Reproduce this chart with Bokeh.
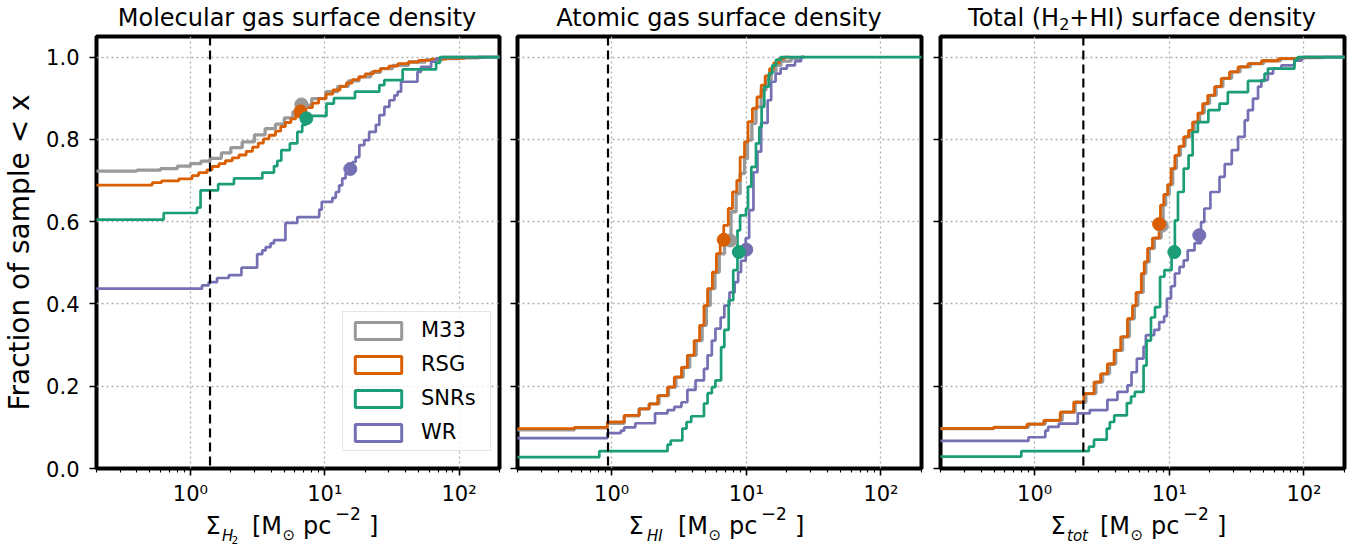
from bokeh.plotting import figure
from bokeh.models import (Range1d, Span, Legend, LegendItem, FixedTicker, Div,
                          PrintfTickFormatter, CustomJSTickFormatter)
from bokeh.layouts import row, column
from bokeh.embed import file_html
from bokeh.resources import INLINE

# ---------------- data ----------------
SERIES = ["M33", "RSG", "SNRs", "WR"]
TITLES = ["Molecular gas surface density", "Atomic gas surface density",
          "Total (H\u2082+HI) surface density"]
Y_LABEL = "Fraction of sample < x"
X_TICKS = [1, 10, 100]
X_TICK_LABELS = ["10\u2070", "10\u00b9", "10\u00b2"]
Y_TICKS = [0.0, 0.2, 0.4, 0.6, 0.8, 1.0]
THRESHOLDS = [1.4, 0.94, 2.3]

# cumulative fractions: (value, fraction of sample below) at each step
H2_M33 = [(0.1, 0.723), (0.4, 0.725), (0.6, 0.729), (0.8, 0.735), (1.0, 0.741), (1.2, 0.747),
          (1.4, 0.754), (1.7, 0.767), (2.0, 0.78), (2.43, 0.794), (3.0, 0.811), (3.6, 0.826),
          (4.3, 0.837), (5.0, 0.852), (5.8, 0.867), (6.7, 0.883), (8.0, 0.899), (10.2, 0.916),
          (12.5, 0.929), (15, 0.942), (18, 0.952), (22, 0.963), (26, 0.972), (32, 0.98),
          (42, 0.988), (56, 0.993), (75, 0.996), (100, 0.998), (140, 1.0), (250, 1.0)]
H2_RSG = [(0.1, 0.689), (0.52, 0.695), (0.61, 0.699), (0.82, 0.704), (1.03, 0.712), (1.15, 0.719),
          (1.33, 0.726), (1.45, 0.734), (1.63, 0.741), (1.82, 0.748), (2.05, 0.755), (2.3, 0.762),
          (2.6, 0.771), (2.9, 0.781), (3.2, 0.791), (3.5, 0.801), (3.85, 0.81), (4.3, 0.82),
          (4.7, 0.831), (5.1, 0.841), (5.6, 0.85), (6.1, 0.859), (6.6, 0.868), (7.2, 0.877),
          (8.1, 0.888), (9.0, 0.899), (10.2, 0.91), (11.5, 0.92), (13, 0.929), (14.5, 0.937),
          (16, 0.945), (18, 0.952), (20, 0.959), (23, 0.966), (26, 0.972), (30, 0.978), (35, 0.984),
          (42, 0.988), (50, 0.992), (62, 0.995), (80, 0.997), (110, 0.999), (150, 1.0)]
H2_SNR = [(0.1, 0.605), (0.633, 0.621), (1.12, 0.634), (1.19, 0.676), (1.61, 0.691), (2.11, 0.705),
          (3.43, 0.719), (4.19, 0.735), (4.44, 0.748), (4.75, 0.774), (5.5, 0.79), (6.25, 0.818),
          (6.8, 0.835), (7.2, 0.857), (10.3, 0.887), (11.7, 0.9), (16.8, 0.916), (25.5, 0.932),
          (27.8, 0.944), (38, 0.97), (67.5, 0.986), (72, 1.0), (250, 1.0)]
H2_WR = [(0.1, 0.437), (1.22, 0.445), (1.37, 0.453), (1.58, 0.463), (1.93, 0.47), (2.4, 0.488),
         (3.14, 0.521), (3.43, 0.53), (3.63, 0.538), (3.95, 0.547), (4.19, 0.555), (5.1, 0.597),
         (6.25, 0.611), (9.1, 0.629), (9.5, 0.648), (11.4, 0.658), (12.1, 0.672), (12.8, 0.688),
         (13.5, 0.705), (14.3, 0.717), (15.5, 0.728), (16.1, 0.745), (17, 0.757), (18.1, 0.786),
         (19.7, 0.798), (21.4, 0.818), (24, 0.835), (25.5, 0.859), (27.8, 0.879), (30.3, 0.895),
         (33, 0.907), (34.9, 0.916), (37, 0.94), (49, 0.964), (52, 0.976), (62, 0.989),
         (67.5, 0.997), (75, 1.0), (250, 1.0)]

HI_M33 = [(0.1, 0.094), (0.53, 0.099), (0.93, 0.11), (1.24, 0.128), (1.6, 0.145), (1.9, 0.157),
          (2.25, 0.177), (2.65, 0.198), (3.0, 0.222), (3.4, 0.246), (3.8, 0.275), (4.25, 0.311),
          (4.7, 0.348), (5.05, 0.396), (5.4, 0.437), (5.85, 0.477), (6.3, 0.522), (6.9, 0.555),
          (7.7, 0.624), (8.4, 0.668), (9.0, 0.717), (9.7, 0.753), (10.2, 0.798), (11.0, 0.839),
          (11.8, 0.879), (12.9, 0.92), (14.0, 0.945), (15.3, 0.965), (16.6, 0.98), (18.1, 0.99),
          (21.5, 0.997), (25.5, 1.0), (27, 1.0)]
HI_RSG = [(0.1, 0.097), (0.53, 0.1), (0.93, 0.113), (1.24, 0.129), (1.6, 0.145), (1.9, 0.157),
          (2.2, 0.177), (2.6, 0.198), (2.92, 0.222), (3.3, 0.246), (3.65, 0.275), (4.1, 0.311),
          (4.5, 0.348), (4.85, 0.396), (5.16, 0.437), (5.6, 0.477), (6.0, 0.522), (6.4, 0.55),
          (6.8, 0.591), (7.35, 0.632), (7.9, 0.672), (8.5, 0.70), (9.0, 0.757), (9.7, 0.794),
          (10.3, 0.843), (11.1, 0.875), (12.0, 0.903), (12.9, 0.932), (13.8, 0.954), (14.9, 0.972),
          (16.0, 0.986), (17.6, 0.996), (19.2, 1.0), (21, 1.0)]
HI_SNR = [(0.1, 0.0275), (0.81, 0.042), (2.6, 0.058), (2.75, 0.068), (3.35, 0.097), (3.6, 0.113),
          (3.9, 0.127), (4.85, 0.158), (5.16, 0.183), (5.55, 0.198), (5.9, 0.214), (6.5, 0.295),
          (6.87, 0.337), (7.4, 0.409), (8.0, 0.482), (8.6, 0.579), (9.0, 0.615), (9.95, 0.632),
          (10.3, 0.685), (10.9, 0.733), (11.8, 0.79), (12.5, 0.83), (13.0, 0.879), (13.6, 0.928),
          (14.7, 0.96), (15.6, 0.98), (16.6, 0.993), (18.0, 1.0), (250, 1.0)]
HI_WR = [(0.1, 0.074), (0.93, 0.086), (1.17, 0.092), (1.24, 0.1), (1.5, 0.11), (2.1, 0.134),
         (2.6, 0.142), (2.92, 0.15), (3.3, 0.161), (3.65, 0.191), (4.2, 0.214), (4.85, 0.242),
         (5.16, 0.275), (5.55, 0.311), (5.9, 0.34), (6.45, 0.367), (6.87, 0.396), (7.5, 0.428),
         (8.2, 0.453), (8.7, 0.477), (9.13, 0.505), (9.9, 0.56), (10.5, 0.628), (11.3, 0.72),
         (12.1, 0.77), (12.9, 0.84), (14.4, 0.895), (15.3, 0.94), (16.5, 0.96), (18, 0.972),
         (20, 0.98), (23, 0.99), (25.5, 1.0), (27, 1.0)]

TOT_M33 = [(0.1, 0.097), (0.5, 0.1), (0.9, 0.108), (1.2, 0.117), (1.6, 0.137), (2.0, 0.161),
           (2.4, 0.182), (2.85, 0.21), (3.2, 0.23), (3.6, 0.254), (4.0, 0.287), (4.5, 0.32),
           (5.05, 0.364), (5.5, 0.396), (5.85, 0.428), (6.4, 0.474), (6.7, 0.502), (7.1, 0.535),
           (7.75, 0.56), (8.7, 0.60), (9.0, 0.64), (9.4, 0.666), (10.0, 0.69), (10.6, 0.729),
           (11.3, 0.761), (12.1, 0.783), (13.1, 0.806), (14.3, 0.822), (15.3, 0.842), (16.8, 0.864),
           (18.2, 0.887), (19.9, 0.907), (22.3, 0.928), (25, 0.948), (29, 0.964), (33.5, 0.976),
           (40, 0.984), (50, 0.991), (67, 0.996), (100, 0.999), (140, 1.0), (250, 1.0)]
TOT_RSG = [(0.1, 0.097), (0.494, 0.1), (0.877, 0.108), (1.17, 0.117), (1.55, 0.137), (1.95, 0.161),
           (2.32, 0.182), (2.76, 0.21), (3.09, 0.23), (3.47, 0.254), (3.89, 0.287), (4.36, 0.32),
           (4.89, 0.364), (5.33, 0.396), (5.66, 0.428), (6.2, 0.474), (6.51, 0.502), (6.9, 0.535),
           (7.5, 0.56), (8.4, 0.60), (8.6, 0.64), (9.1, 0.666), (9.72, 0.69), (10.3, 0.729),
           (11.0, 0.761), (11.8, 0.783), (12.8, 0.806), (13.9, 0.822), (14.9, 0.842), (16.3, 0.864),
           (17.7, 0.887), (19.3, 0.907), (21.7, 0.928), (24.3, 0.948), (28, 0.964), (32.4, 0.976),
           (38.4, 0.984), (48.3, 0.991), (64.4, 0.996), (96, 0.999), (134, 1.0)]
TOT_SNR = [(0.1, 0.029), (0.796, 0.042), (2.53, 0.053), (2.76, 0.07), (3.43, 0.097), (3.62, 0.113),
           (3.9, 0.129), (4.84, 0.159), (5.2, 0.175), (5.55, 0.186), (6.44, 0.25), (6.78, 0.311),
           (7.31, 0.367), (7.83, 0.392), (8.54, 0.466), (9.2, 0.482), (10.4, 0.518), (11.0, 0.603),
           (11.6, 0.672), (12.8, 0.729), (13.9, 0.761), (14.9, 0.818), (16.3, 0.842), (19.5, 0.871),
           (23.6, 0.887), (27.2, 0.915), (38.4, 0.942), (51, 0.96), (54, 0.972), (85, 0.993),
           (90, 1.0), (250, 1.0)]
TOT_WR = [(0.1, 0.067), (0.90, 0.076), (1.2, 0.092), (1.26, 0.101), (1.51, 0.109), (2.09, 0.134),
          (2.57, 0.142), (3.47, 0.167), (4.12, 0.186), (4.89, 0.202), (5.24, 0.234), (5.74, 0.267),
          (6.44, 0.296), (6.7, 0.324), (7.73, 0.337), (8.42, 0.356), (9.16, 0.37), (9.6, 0.413),
          (10.3, 0.443), (11.0, 0.474), (11.9, 0.49), (12.8, 0.506), (13.7, 0.53), (15.4, 0.548),
          (17.2, 0.599), (18.2, 0.632), (20.2, 0.672), (23.6, 0.709), (25.8, 0.74), (29.1, 0.774),
          (32.4, 0.806), (36.3, 0.846), (38.4, 0.871), (41.8, 0.899), (45.6, 0.928), (48.3, 0.944),
          (54, 0.96), (59, 0.972), (68, 0.98), (85, 0.991), (96, 1.0), (250, 1.0)]

# median markers, in SERIES order
MED_H2_X = [6.7, 6.6, 7.3, 15.5]
MED_H2_Y = [0.885, 0.868, 0.851, 0.728]
MED_HI_X = [7.6, 6.8, 8.8, 10.0]
MED_HI_Y = [0.554, 0.556, 0.526, 0.532]
MED_TOT_X = [8.8, 8.4, 10.9, 16.7]
MED_TOT_Y = [0.59, 0.594, 0.526, 0.567]

PANEL_DATA = [
    {"M33": H2_M33, "RSG": H2_RSG, "SNRs": H2_SNR, "WR": H2_WR},
    {"M33": HI_M33, "RSG": HI_RSG, "SNRs": HI_SNR, "WR": HI_WR},
    {"M33": TOT_M33, "RSG": TOT_RSG, "SNRs": TOT_SNR, "WR": TOT_WR},
]
PANEL_MED = [(MED_H2_X, MED_H2_Y), (MED_HI_X, MED_HI_Y), (MED_TOT_X, MED_TOT_Y)]

# ---------------- style / layout ----------------
FONT = "DejaVu Sans"
COLORS = {"M33": "#999999", "RSG": "#d95f02", "SNRs": "#1b9e77", "WR": "#7570b3"}
LWIDTH = {"M33": 3.3, "RSG": 2.8, "SNRs": 2.7, "WR": 2.7}
DRAW_ORDER = ["M33", "RSG", "WR", "SNRs"]
BORDER_L = [95, 9, 10]
BORDER_R = [9, 9, 4]
FRAME_W = [404, 404, 404]
WIDTHS = [BORDER_L[k] + FRAME_W[k] + BORDER_R[k] for k in range(3)]
TITLE_H = 34
BT, FRAME_H, BB = 2, 432, 40
FIG_H = BT + FRAME_H + BB
XLAB_H = 547 - TITLE_H - FIG_H
MINOR = [m * 10.0 ** e for e in (-1, 0, 1, 2) for m in range(2, 10)]

# x-label pieces: (text, x from frame left, font px, vertical shift px, italic)
XLABEL_PIECES = [
    [("\u03a3", 110.5, 24, 0, False), ("H", 127, 15, 7, True), ("2", 136.5, 10.5, 9.5, False),
     ("[M", 157, 24, 0, False), ("\u2299", 187.5, 15, 6, False), ("pc", 208, 24, 0, False),
     ("\u2212", 240, 18, -14, False), ("2", 255, 17, -14, False), ("]", 274, 24, 0, False)],
    [("\u03a3", 111.5, 24, 0, False), ("HI", 130, 15, 7, True),
     ("[M", 161, 24, 0, False), ("\u2299", 191.5, 15, 6, False), ("pc", 212, 24, 0, False),
     ("\u2212", 244, 18, -14, False), ("2", 259, 17, -14, False), ("]", 278, 24, 0, False)],
    [("\u03a3", 110.5, 24, 0, False), ("tot", 127, 15, 7, True),
     ("[M", 160, 24, 0, False), ("\u2299", 190.5, 15, 6, False), ("pc", 211, 24, 0, False),
     ("\u2212", 243, 18, -14, False), ("2", 258, 17, -14, False), ("]", 277, 24, 0, False)],
]


def title_div(k):
    txt = TITLES[k].replace(
        "\u2082", '<span style="font-size:16px;position:relative;top:4px;">2</span>')
    html = (f'<div style="margin-left:{BORDER_L[k]}px;width:{FRAME_W[k]}px;text-align:center;'
            f'font-family:\'{FONT}\';font-size:24px;line-height:20px;padding-top:8px;'
            f'color:black;white-space:nowrap;">{txt}</div>')
    return Div(text=html, width=WIDTHS[k], height=TITLE_H, margin=0)


def xlabel_div(k):
    pieces = XLABEL_PIECES[k]
    spans = []
    for j, (t, x, s, dy, it) in enumerate(pieces):
        w = (pieces[j + 1][1] - x) if j + 1 < len(pieces) else 14
        style = (f"display:inline-block;width:{w}px;font-size:{s}px;position:relative;"
                 f"top:{dy}px;" + ("font-style:italic;" if it else ""))
        spans.append(f'<span style="{style}">{t}</span>')
    html = (f'<div style="padding-left:{BORDER_L[k] + pieces[0][1]}px;padding-top:6px;'
            f'font-family:\'{FONT}\';font-size:24px;line-height:24px;white-space:nowrap;'
            f'color:black;">' + "".join(spans) + "</div>")
    return Div(text=html, width=WIDTHS[k], height=XLAB_H, margin=0)


def build(i):
    p = figure(width=WIDTHS[i], height=FIG_H, x_axis_type="log",
               x_range=Range1d(0.2, 200), y_range=Range1d(0, 1.05),
               output_backend="svg", toolbar_location=None,
               min_border_left=BORDER_L[i], min_border_right=BORDER_R[i],
               min_border_top=BT, min_border_bottom=BB)
    p.background_fill_color = "white"
    p.border_fill_color = "white"
    p.outline_line_color = "black"
    p.outline_line_width = 4
    p.outline_line_alpha = 1.0

    xa, ya = p.xaxis[0], p.yaxis[0]
    xa.ticker = FixedTicker(ticks=X_TICKS, minor_ticks=MINOR)
    xa.major_label_overrides = dict(zip(X_TICKS, X_TICK_LABELS))
    ya.ticker = FixedTicker(ticks=Y_TICKS, minor_ticks=[])
    p.xgrid[0].ticker = xa.ticker
    p.ygrid[0].ticker = ya.ticker
    for ax in (xa, ya):
        ax.axis_line_color = None
        ax.major_tick_line_color = "black"
        ax.major_tick_line_width = 1.6
        ax.major_tick_in = 0
        ax.major_tick_out = 7
        ax.minor_tick_line_color = "black"
        ax.minor_tick_line_width = 1.1
        ax.minor_tick_in = 0
        ax.minor_tick_out = 4
        ax.major_label_text_font = FONT
        ax.major_label_text_font_size = "21px"
        ax.major_label_text_color = "black"
    xa.major_label_standoff = 6
    if i == 0:
        ya.formatter = PrintfTickFormatter(format="%.1f")
        ya.major_label_standoff = 10
        ya.axis_label = Y_LABEL
        ya.axis_label_text_font = FONT
        ya.axis_label_text_font_size = "28px"
        ya.axis_label_text_font_style = "normal"
        ya.axis_label_text_color = "black"
        ya.axis_label_standoff = 7
    else:
        ya.formatter = CustomJSTickFormatter(code="return ''")
        ya.major_label_standoff = 0
    for g in (p.xgrid[0], p.ygrid[0]):
        g.grid_line_color = "#b0b0b0"
        g.grid_line_dash = "2 3"
        g.grid_line_width = 1.3

    data = PANEL_DATA[i]
    for s in DRAW_ORDER:
        pts = data[s]
        p.step([a for a, b in pts], [b for a, b in pts], mode="after",
               line_color=COLORS[s], line_width=LWIDTH[s])

    p.add_layout(Span(location=THRESHOLDS[i], dimension="height", line_color="black",
                      line_width=2.2, line_dash="9 5"))

    mx, my = PANEL_MED[i]
    for s in DRAW_ORDER:
        k = SERIES.index(s)
        p.scatter([mx[k]], [my[k]], size=13, color=COLORS[s])

    if i == 0:
        nan = float("nan")
        items = []
        for s in SERIES:
            r = p.quad(left=[nan], right=[nan], top=[nan], bottom=[nan], fill_color=None,
                       line_color=COLORS[s], line_width=3)
            items.append(LegendItem(label=s, renderers=[r]))
        lg = Legend(items=items, location=(246, 17), glyph_width=58, glyph_height=21,
                    label_height=24, label_width=63, label_standoff=14, spacing=10,
                    padding=6, margin=0, border_line_color="#cccccc", border_line_width=1.3,
                    background_fill_color="white", background_fill_alpha=0.8,
                    label_text_font=FONT, label_text_font_size="21px",
                    label_text_color="black")
        p.add_layout(lg)
    return p


figs = [build(i) for i in range(3)]
layout = column(row(*[title_div(k) for k in range(3)]),
                row(*figs),
                row(*[xlabel_div(k) for k in range(3)]))
open("out.html", "w").write(file_html(layout, INLINE))
